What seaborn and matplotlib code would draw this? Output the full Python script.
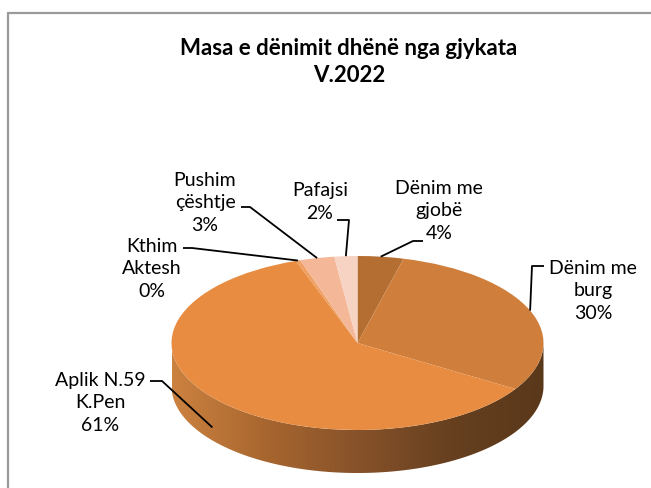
import numpy as np
import matplotlib
matplotlib.use("Agg")
import matplotlib.pyplot as plt
from matplotlib.patches import Polygon
from matplotlib.lines import Line2D
from matplotlib.colors import LinearSegmentedColormap
import seaborn as sns

# ---------------- data ----------------
categories = ["Dënim me\ngjobë", "Dënim me\nburg", "Aplik N.59\nK.Pen",
              "Kthim\nAktesh", "Pushim\nçështje", "Pafajsi"]
shares = [4, 30, 61, 0.4, 3, 2]
title_lines = ["Masa e dënimit dhënë nga gjykata", "V.2022"]

# ---------------- style ----------------
top_colors = ["#b46e32", "#cf7f3b", "#e88c41", "#efa062", "#f4b898", "#f7d3c3"]
side_colors = ["#cc8240", "#a8662f", "#87522a", "#66401f", "#5a381a"]

W, H = 651, 489
CX, CY = 357.5, 344.0     # ellipse centre (pixels from top-left)
RA, RB = 186.0, 87.0      # semi-axes in pixels
DEPTH = 43.0              # thickness in pixels

# label layout: text centre, text-side end of leader, elbow, anchor drop (pixels)
layout = {
    0: dict(text=(439, 211), end=(423, 242), elbow=(413, 242), drop=0),
    1: dict(text=(593, 291), end=(544, 267), elbow=(532, 267), drop=0),
    2: dict(text=(100, 403), end=(150, 382), elbow=(162, 382), drop=30),
    3: dict(text=(152, 269), end=(183, 249), elbow=(192, 249), drop=0),
    4: dict(text=(205, 203), end=(241, 208), elbow=(250, 208), drop=0),
    5: dict(text=(320, 202), end=(337, 221), elbow=(349, 221), drop=0),
}

sns.set_theme(style="white")
plt.rcParams["font.family"] = ["Lato", "DejaVu Sans"]

fig = plt.figure(figsize=(W / 100, H / 100), dpi=100)
fig.patch.set_facecolor("white")
ax = fig.add_axes([0, 0, 1, 1])


def P(px, py):
    return ((px - CX) / RA, (CY - py) / RB)


wedges, _ = ax.pie(shares, colors=top_colors, startangle=90, counterclock=False,
                   radius=1, wedgeprops=dict(linewidth=0, zorder=3))

# side of the 3D pie
d = DEPTH / RB
t = np.linspace(np.pi, 2 * np.pi, 300)
top_arc = np.column_stack([np.cos(t), np.sin(t)])
bot_arc = np.column_stack([np.cos(t[::-1]), np.sin(t[::-1]) - d])
side = Polygon(np.vstack([top_arc, bot_arc]), closed=True,
               facecolor="none", edgecolor="none")
ax.add_patch(side)
cmap = LinearSegmentedColormap.from_list("side", side_colors)
img = ax.imshow(np.linspace(0, 1, 256)[None, :], extent=(-1, 1, -1 - d, 0),
                cmap=cmap, aspect="auto", zorder=1, interpolation="bilinear")
img.set_clip_path(side)

ax.set_aspect("auto")
ax.set_xlim(-CX / RA, (W - CX) / RA)
ax.set_ylim((CY - H) / RB, CY / RB)
ax.axis("off")

# labels and leader lines
total = sum(shares)
for i, (w, lab, v) in enumerate(zip(wedges, categories, shares)):
    lay = layout[i]
    mid = np.deg2rad((w.theta1 + w.theta2) / 2)
    ax_x, ax_y = np.cos(mid), np.sin(mid) - lay["drop"] / RB
    ex, ey = P(*lay["elbow"])
    nx, ny = P(*lay["end"])
    ax.plot([nx, ex, ax_x], [ny, ey, ax_y], color="black", lw=1.3, zorder=5,
            solid_capstyle="butt")
    tx, ty = P(*lay["text"])
    pct = round(v / total * 100)
    ax.text(tx, ty, f"{lab}\n{pct}%", ha="center", va="center",
            multialignment="center", fontsize=14, color="black",
            linespacing=1.38, zorder=6)

# title
fig.text(349 / W, 1 - 62 / H, "\n".join(title_lines), ha="center", va="center",
         fontsize=16, fontweight="bold", color="black", linespacing=1.4)

# chart border
fig.add_artist(Line2D([8 / W, 1.0], [1 - 14 / H, 1 - 14 / H],
                      transform=fig.transFigure, color="#9a9a9a", lw=1.6))
fig.add_artist(Line2D([8 / W, 8 / W], [1 - 14 / H, 0.0],
                      transform=fig.transFigure, color="#9a9a9a", lw=1.6))

fig.savefig("out.png", dpi=100, facecolor="white")
